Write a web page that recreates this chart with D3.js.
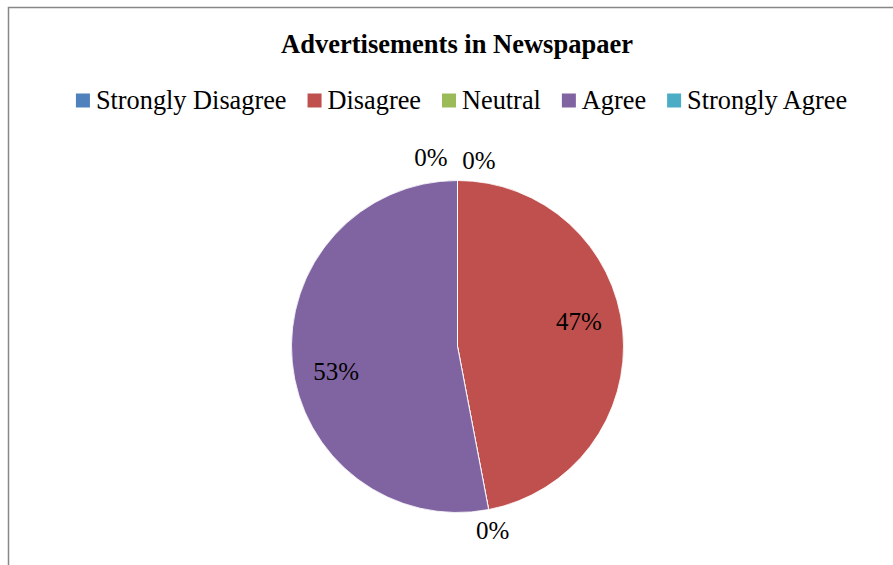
<!DOCTYPE html>
<html>
<head>
<meta charset="utf-8">
<script src="https://cdn.jsdelivr.net/npm/d3@7"></script>
<style>
  html, body { margin: 0; padding: 0; background: #fff; }
  svg { display: block; font-family: "Liberation Serif", "Times New Roman", serif; }
</style>
</head>
<body>
<svg id="chart" width="893" height="565"></svg>
<script>
// Survey responses: share of respondents (%)
const chartTitle = "Advertisements in Newspapaer";
const categories = ["Strongly Disagree", "Disagree", "Neutral", "Agree", "Strongly Agree"];
const shares = [0, 47, 0, 53, 0];
const colors = ["#4F81BD", "#C0504D", "#9BBB59", "#8064A2", "#4BACC6"];

const W = 893, H = 565;
const svg = d3.select("#chart");

// chart frame (right and bottom edges fall outside the view)
svg.append("rect")
  .attr("x", 8.5).attr("y", 7.5)
  .attr("width", W + 20).attr("height", H + 20)
  .attr("fill", "#fff")
  .attr("stroke", "#878787").attr("stroke-width", 1.5);

// title
svg.append("text")
  .attr("x", 457).attr("y", 53)
  .attr("text-anchor", "middle")
  .attr("font-weight", "bold")
  .attr("font-size", 26.5)
  .attr("fill", "#000")
  .text(chartTitle);

// legend: laid out left to right, centred on the chart
const legendFont = 26.3, box = 14, boxGap = 6, itemGap = 21;
const legend = svg.append("g");
const items = legend.selectAll("g.item").data(categories).join("g").attr("class", "item");
items.append("rect")
  .attr("width", box).attr("height", box)
  .attr("y", -box / 2 - 8.5)
  .attr("fill", (d, i) => colors[i]);
items.append("text")
  .attr("x", box + boxGap)
  .attr("font-size", legendFont)
  .attr("fill", "#000")
  .text(d => d);
let cursor = 0;
items.each(function () {
  const w = box + boxGap + this.querySelector("text").getComputedTextLength();
  d3.select(this).attr("transform", `translate(${cursor},0)`);
  cursor += w + itemGap;
});
const legendWidth = cursor - itemGap;
legend.attr("transform", `translate(${(75 + 848) / 2 - legendWidth / 2},109)`);

// pie
const cx = 457.5, cy = 346.5, R = 166;
const pie = d3.pie().sort(null).value(d => d)(shares);
const arc = d3.arc().innerRadius(0).outerRadius(R);
const g = svg.append("g").attr("transform", `translate(${cx},${cy})`);

g.selectAll("path").data(pie).join("path")
  .attr("d", arc)
  .attr("fill", (d, i) => colors[i])
  .attr("stroke", "#fff")
  .attr("stroke-width", 0.8);

// data labels: inside for visible slices, just outside the rim for empty ones
const fmt = v => Math.round(v) + "%";
const total = d3.sum(shares);
const labels = pie.map((d, i) => {
  const mid = (d.startAngle + d.endAngle) / 2;
  if (d.endAngle - d.startAngle > 0) {
    return { text: fmt(d.value / total * 100), angle: mid - 0.11, r: 124 };
  }
  return { text: fmt(d.value / total * 100), angle: mid, r: 187, outside: true };
});
// spread empty-slice labels that land on the same spot at the top
const outside = labels.filter(l => l.outside);
outside.forEach(a => {
  outside.forEach(b => {
    if (a === b) return;
    const diff = Math.abs(((a.angle - b.angle) % (2 * Math.PI) + 2 * Math.PI) % (2 * Math.PI));
    if (diff < 0.1 || diff > 2 * Math.PI - 0.1) {
      a.spread = a.angle < Math.PI ? 0.115 : -0.14;
    }
  });
});
outside.forEach(l => { if (l.spread) { l.angle += l.spread; if (l.spread < 0) l.r += 4; } });

g.selectAll("text.lbl").data(labels).join("text")
  .attr("class", "lbl")
  .attr("x", d => d.r * Math.sin(d.angle))
  .attr("y", d => -d.r * Math.cos(d.angle))
  .attr("text-anchor", "middle")
  .attr("dominant-baseline", "central")
  .attr("font-size", 25)
  .attr("fill", "#000")
  .text(d => d.text);
</script>
</body>
</html>
